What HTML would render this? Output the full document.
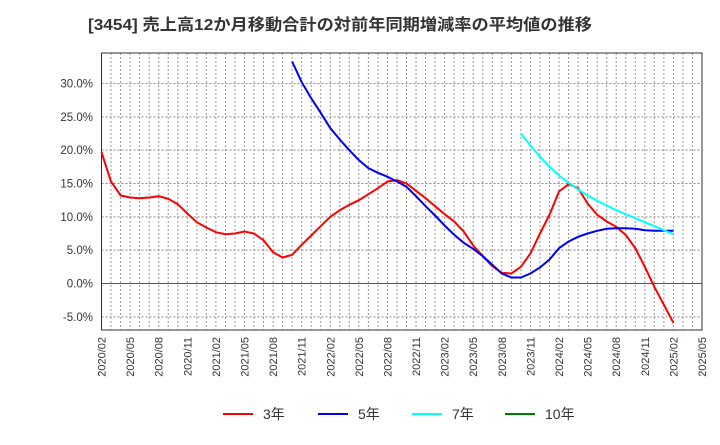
<!DOCTYPE html>
<html><head><meta charset="utf-8"><style>
body{margin:0;background:#fff;font-family:"Liberation Sans","Noto Sans CJK JP",sans-serif;}
</style></head><body>
<svg width="720" height="440" xmlns="http://www.w3.org/2000/svg" font-family="Liberation Sans, Noto Sans CJK JP, sans-serif">
<text x="88" y="30" font-size="16" font-weight="bold" fill="#333" textLength="504" lengthAdjust="spacingAndGlyphs">[3454]  売上高12か月移動合計の対前年同期増減率の平均値の推移</text>
<g id="grid"></g>
<g id="axes"></g>
<g id="series"></g>
<g id="legend"></g>
</svg>
<script>
const xLabels=["2020/02","2020/05","2020/08","2020/11","2021/02","2021/05","2021/08","2021/11","2022/02","2022/05","2022/08","2022/11","2023/02","2023/05","2023/08","2023/11","2024/02","2024/05","2024/08","2024/11","2025/02","2025/05"];
const yTicks=[-5,0,5,10,15,20,25,30];
const red3=[19.7,15.3,13.2,12.9,12.8,12.9,13.1,12.7,11.9,10.5,9.2,8.4,7.7,7.4,7.5,7.8,7.5,6.5,4.7,3.9,4.3,5.8,7.2,8.6,10.0,11.0,11.8,12.5,13.4,14.3,15.3,15.5,15.0,13.9,12.8,11.6,10.4,9.3,7.8,5.7,4.1,2.6,1.6,1.5,2.5,4.5,7.5,10.3,13.8,14.9,14.3,12.0,10.3,9.3,8.5,7.3,5.3,2.5,-0.5,-3.2,-5.9];
const blue5Start=20;
const blue5=[33.3,30.2,27.8,25.6,23.3,21.6,20.0,18.5,17.3,16.6,16.0,15.3,14.5,13.1,11.6,10.2,8.7,7.3,6.1,5.2,4.1,2.8,1.5,0.9,0.9,1.5,2.4,3.6,5.3,6.3,7.0,7.5,7.9,8.2,8.3,8.3,8.2,8.0,7.9,7.9,7.9];
const cyan7Start=44;
const cyan7=[22.5,20.7,19.0,17.5,16.2,15.1,14.1,13.2,12.4,11.7,11.0,10.4,9.8,9.2,8.6,8.0,7.4];
const green10=[];
const L=101.5,R=702,T=53,B=330,NM=63;
const X=m=>L+(R-L)*m/NM;
const Y=v=>283.5-v*(200/30);
const NS="http://www.w3.org/2000/svg";
function mk(p,t,a){const e=document.createElementNS(NS,t);for(const k in a)e.setAttribute(k,a[k]);p.appendChild(e);return e;}
const grid=document.getElementById('grid'),axes=document.getElementById('axes'),ser=document.getElementById('series'),leg=document.getElementById('legend');
for(let m=1;m<NM;m++){const l=mk(grid,'line',{x1:X(m),x2:X(m),y1:T,y2:B,stroke:'#999','stroke-width':1,'stroke-dasharray':'2,2'});

}
yTicks.forEach(v=>{const l=mk(grid,'line',{x1:L,x2:R,y1:Y(v),y2:Y(v),stroke:v===0?'#555':'#888','stroke-width':1,'stroke-dasharray':v===0?'':'2,2'});


const t=mk(axes,'text',{x:93,y:Y(v)+4,'font-size':11.5,'text-anchor':'end',fill:'#333'});t.textContent=v.toFixed(1)+'%';

});
const fr=mk(axes,'rect',{x:L,y:T,width:R-L,height:B-T,fill:'none',stroke:'#333','stroke-width':1});


xLabels.forEach((s,i)=>{const x=X(i*3);const t=mk(axes,'text',{x:0,y:0,'font-size':11,'text-anchor':'end',fill:'#333',transform:`translate(${x+4},337) rotate(-90)`});t.textContent=s;

});
function line(arr,start,col,name){if(!arr.length)return;const p=arr.map((v,i)=>X(start+i).toFixed(1)+','+Y(v).toFixed(1)).join(' ');
const e=mk(ser,'polyline',{points:p,fill:'none',stroke:col,'stroke-width':2});

}
line(red3,0,'#ff0000','series-3y');
line(blue5,blue5Start,'#0000ee','series-5y');
line(cyan7,cyan7Start,'#00ffff','series-7y');
line(green10,0,'#008000','series-10y');
[['3年','#ff0000',223],['5年','#0000ee',318],['7年','#00ffff',412],['10年','#008000',505]].forEach(([s,c,x])=>{
const g=mk(leg,'g',{});


mk(g,'line',{x1:x,x2:x+30,y1:414,y2:414,stroke:c,'stroke-width':2});
const t=mk(g,'text',{x:x+40,y:419,'font-size':14,fill:'#333'});t.textContent=s;});
</script>
</body></html>
